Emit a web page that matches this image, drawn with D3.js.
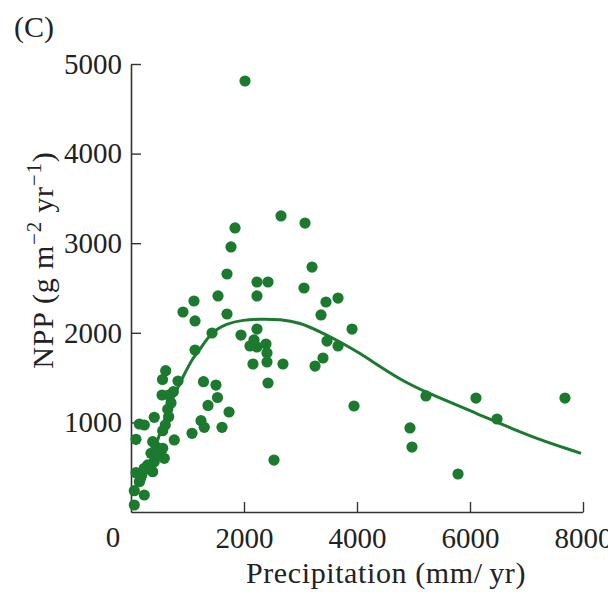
<!DOCTYPE html>
<html>
<head>
<meta charset="utf-8">
<script src="https://cdn.jsdelivr.net/npm/d3@7"></script>
<style>
  html, body { margin: 0; padding: 0; background: #fff; }
  svg text { font-family: "Liberation Serif", "DejaVu Serif", serif; fill: #222; }
</style>
</head>
<body>
<svg id="chart" width="608" height="592"></svg>
<script>
// Data (precipitation mm/yr, NPP g m^-2 yr^-1)
const precip = [
  2018, 2655, 3080, 1841, 1770, 1699, 3204, 2230, 2425, 2230, 1540, 3062, 1115, 920, 1133, 1699,
  3451, 3664, 3363, 1434, 1947, 3912, 2230, 2177, 2106, 2230, 2389, 3469, 3664, 2407, 2407, 2159,
  2690, 3398, 3257, 1133, 2425, 2531, 3947, 5221, 6106, 7681, 6478, 4938, 4973, 5788,
  708, 650, 614, 558, 832, 1283, 1504, 1531, 1363, 1735, 549, 667, 749, 412, 667, 147, 235,
  1239, 1297, 1611, 607, 561, 1080, 88, 766, 384, 442, 501, 561, 354, 589, 473, 412, 296, 235,
  384, 88, 177, 147, 58, 235, 58
];
const npp = [
  4810, 3304, 3225, 3170, 2958, 2656, 2734, 2567, 2567, 2411, 2411, 2500, 2355, 2232, 2132, 2210,
  2344, 2388, 2199, 1998, 1975, 2042, 2042, 1920, 1853, 1842, 1875, 1908, 1853, 1775, 1674, 1652,
  1652, 1719, 1629, 1808, 1440, 580, 1183, 1295, 1272, 1272, 1038, 938, 725, 424,
  1217, 1146, 1577, 1479, 1462, 1454, 1417, 1278, 1189, 1116, 1306, 1306, 1343, 1057, 1064, 982, 971,
  1019, 945, 945, 971, 907, 878, 811, 804, 785, 729, 692, 711, 655, 599, 636, 561, 525, 488,
  450, 439, 394, 338, 238, 190, 78
];
// Fitted curve
const fitPrecip = [200, 336, 632, 749, 920, 1103, 1221, 1398, 1694, 1988, 2283, 2637, 2991, 3345, 3699, 4053, 4407, 4761, 5233, 6119, 7062, 7965];
const fitNpp    = [300, 547, 1105, 1287, 1510, 1733, 1808, 1994, 2106, 2143, 2154, 2151, 2115, 2012, 1901, 1771, 1622, 1480, 1330, 1102, 840, 655];

const xTicks = [2000, 4000, 6000, 8000];
const yTicks = [1000, 2000, 3000, 4000, 5000];

const green = "#1b7a2e";
const axisColor = "#333";
const svg = d3.select("#chart");

const x = d3.scaleLinear().domain([0, 8000]).range([131, 583]);
const y = d3.scaleLinear().domain([0, 5000]).range([512, 64]);

// Axes
const xAxis = d3.axisBottom(x).tickValues(xTicks).tickSizeInner(-10).tickSizeOuter(0).tickPadding(15)
  .tickFormat(d3.format("d"));
const yAxis = d3.axisLeft(y).tickValues(yTicks).tickSizeInner(-10).tickSizeOuter(0).tickPadding(9)
  .tickFormat(d3.format("d"));

const gx = svg.append("g").attr("transform", `translate(0,${y(0)})`).call(xAxis);
const gy = svg.append("g").attr("transform", `translate(${x(0)},0)`).call(yAxis);
[gx, gy].forEach(g => {
  g.select(".domain").attr("stroke", axisColor).attr("stroke-width", 1.6);
  g.selectAll(".tick line").attr("stroke", axisColor).attr("stroke-width", 1.4);
  g.selectAll(".tick text").attr("font-size", 29).attr("fill", "#222")
    .attr("font-family", "'Liberation Serif', serif");
});

// shared origin label
svg.append("text").attr("x", 113).attr("y", 547).attr("text-anchor", "middle")
  .attr("font-size", 29).text("0");

// points
svg.append("g").selectAll("circle").data(precip.map((p, i) => [p, npp[i]]))
  .join("circle")
  .attr("cx", d => x(d[0])).attr("cy", d => y(d[1])).attr("r", 5.6)
  .attr("fill", green);

// curve
svg.append("path")
  .datum(fitPrecip.map((p, i) => [p, fitNpp[i]]))
  .attr("fill", "none").attr("stroke", green).attr("stroke-width", 3)
  .attr("d", d3.line().x(d => x(d[0])).y(d => y(d[1])).curve(d3.curveBasis));

// axis titles
svg.append("text").attr("x", 386).attr("y", 583).attr("text-anchor", "middle")
  .attr("font-size", 30).attr("letter-spacing", 0.6).text("Precipitation (mm/\u2009yr)");

const yl = svg.append("text").attr("transform", "translate(53,260) rotate(-90)")
  .attr("text-anchor", "middle").attr("font-size", 30).attr("letter-spacing", 0.8);
yl.append("tspan").text("NPP (g m");
yl.append("tspan").attr("baseline-shift", "super").attr("font-size", 21).text("\u22122");
yl.append("tspan").text(" yr");
yl.append("tspan").attr("baseline-shift", "super").attr("font-size", 21).text("\u22121");
yl.append("tspan").text(")");

// panel label
svg.append("text").attr("x", 14).attr("y", 37).attr("font-size", 30).text("(C)");
</script>
</body>
</html>
